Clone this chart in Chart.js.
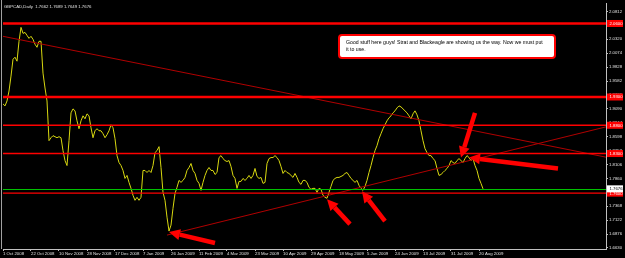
<!DOCTYPE html>
<html>
<head>
<meta charset="utf-8">
<script src="https://cdn.jsdelivr.net/npm/chart.js@4.4.0/dist/chart.umd.min.js"></script>
<style>
html, body { margin: 0; padding: 0; background: #000; }
</style>
</head>
<body>
<canvas id="priceChart" width="625" height="258"></canvas>
<script>
// GBPCAD daily closes, 1 Oct 2008 .. 21 Aug 2009
const closes = [
    1.9178, 1.9143, 1.9230, 1.9406, 1.9670, 1.9968, 2.0004, 1.9933, 2.0285, 2.0531,
    2.0425, 2.0442, 2.0390, 2.0337, 2.0373, 2.0320, 2.0232, 2.0179, 2.0285, 2.0285,
    1.9722, 1.9459, 1.9230, 1.8528, 1.8580, 1.8616, 1.8598, 1.8580, 1.8598, 1.8580,
    1.8352, 1.8176, 1.8088, 1.8528, 1.9020, 1.9090, 1.9055, 1.8879, 1.8739, 1.8879,
    1.8967, 1.8914, 1.9002, 1.8967, 1.8756, 1.8580, 1.8703, 1.8739, 1.8703, 1.8703,
    1.8651, 1.8580, 1.8633, 1.8703, 1.8809, 1.8756, 1.8563, 1.8264, 1.8141, 1.8088,
    1.8001, 1.7860, 1.7913, 1.7790, 1.7684, 1.7561, 1.7473, 1.7526, 1.7473, 1.7526,
    1.8001, 1.8001, 1.7965, 1.8001, 1.7965, 1.8088, 1.8317, 1.8352, 1.8422, 1.8053,
    1.7614, 1.7473, 1.7175, 1.6929, 1.7034, 1.7332, 1.7596, 1.7702, 1.7825, 1.7790,
    1.7825, 1.7878, 1.8001, 1.8053, 1.8124, 1.8001, 1.7948, 1.7825, 1.7772, 1.7649,
    1.7790, 1.7913, 1.8001, 1.8053, 1.8001, 1.8001, 1.7930, 1.7965, 1.8229, 1.8264,
    1.8211, 1.8176, 1.8159, 1.8176, 1.8071, 1.7913, 1.7860, 1.7684, 1.7807, 1.7807,
    1.7860, 1.7825, 1.7860, 1.7913, 1.7860, 1.7913, 1.8036, 1.7895, 1.7860, 1.7878,
    1.7772, 1.7790, 1.8124, 1.8211, 1.8229, 1.8229, 1.8264, 1.8229, 1.8176, 1.8071,
    1.7948, 1.8001, 1.7965, 1.7948, 1.7913, 1.7878, 1.7948, 1.7878, 1.7790, 1.7755,
    1.7825, 1.7825, 1.7790, 1.7702, 1.7667, 1.7684, 1.7684, 1.7614, 1.7684, 1.7667,
    1.7561, 1.7526, 1.7509, 1.7614, 1.7719, 1.7825, 1.7860, 1.7878, 1.7878, 1.7895,
    1.7913, 1.7948, 1.7965, 1.7913, 1.7860, 1.7825, 1.7790, 1.7825, 1.7737, 1.7684,
    1.7649, 1.7719, 1.7825, 1.7965, 1.8088, 1.8229, 1.8352, 1.8440, 1.8563, 1.8651,
    1.8739, 1.8809, 1.8879, 1.8932, 1.8967, 1.9020, 1.9055, 1.9107, 1.9143, 1.9125,
    1.9090, 1.9055, 1.9020, 1.8967, 1.8914, 1.9002, 1.9055, 1.8985, 1.8879, 1.8703,
    1.8528, 1.8387, 1.8317, 1.8264, 1.8264, 1.8211, 1.8176, 1.8036, 1.7913, 1.7930,
    1.7965, 1.8001, 1.8036, 1.8088, 1.8176, 1.8141, 1.8124, 1.8176, 1.8211, 1.8176,
    1.8141, 1.8211, 1.8264, 1.8229, 1.8176, 1.8211, 1.8088, 1.8001, 1.7860, 1.7772,
    1.7676
];
const dateLabels = [
    '1 Oct 2008', '22 Oct 2008', '10 Nov 2008', '28 Nov 2008', '17 Dec 2008', '7 Jan 2009',
    '26 Jan 2009', '11 Feb 2009', '4 Mar 2009', '23 Mar 2009', '10 Apr 2009', '29 Apr 2009',
    '18 May 2009', '5 Jun 2009', '24 Jun 2009', '13 Jul 2009', '31 Jul 2009', '20 Aug 2009'
];
const barsPerLabel = 14;
const priceTicks = [
    1.6630, 1.6876, 1.7122, 1.7368, 1.7614, 1.7860, 1.8106, 1.8352, 1.8598,
    1.8844, 1.9090, 1.9336, 1.9582, 1.9828, 2.0074, 2.0320, 2.0566, 2.0812
];
const levels = [2.0600, 1.9300, 1.8800, 1.8300, 1.7600];
const levelWidths = [2.5, 2.5, 1.5, 1.5, 1.2];
const lastPrice = 1.7676;
const ohlc = 'GBPCAD,Daily  1.7662 1.7689 1.7649 1.7676';
const note = ['Good stuff here guys! Strat and Blackeagle are showing us the way. Now we must put', 'it to use.'];

// trendlines and arrows as [bar, price, bar, price]
const trendLines = [
    [0, 2.0373, 301.5, 1.8236],
    [82, 1.6858, 301.5, 1.8772]
];
const arrows = [
    [106, 1.6718, 83, 1.6912],
    [173.5, 1.7052, 162, 1.7491],
    [191, 1.7104, 179.5, 1.7632],
    [236, 1.9020, 229, 1.8229],
    [277.5, 1.8036, 233, 1.8229]
];

const FONT = 'Liberation Sans';

function drawArrow(ctx, x1, y1, x2, y2) {
    const ang = Math.atan2(y2 - y1, x2 - x1);
    const len = 11, half = 5.5;
    const bx = x2 - Math.cos(ang) * len, by = y2 - Math.sin(ang) * len;
    ctx.beginPath();
    ctx.moveTo(x1, y1);
    ctx.lineTo(bx, by);
    ctx.stroke();
    ctx.beginPath();
    ctx.moveTo(x2, y2);
    ctx.lineTo(bx + Math.sin(ang) * half, by - Math.cos(ang) * half);
    ctx.lineTo(bx - Math.sin(ang) * half, by + Math.cos(ang) * half);
    ctx.closePath();
    ctx.fill();
}

function axisLabel(ctx, yScale, price, fill, textColor) {
    const py = yScale.getPixelForValue(price);
    const left = yScale.left + 1;
    ctx.fillStyle = fill;
    ctx.fillRect(left, py - 3.5, 16, 7);
    ctx.fillStyle = textColor;
    ctx.font = '4.3px ' + FONT;
    ctx.textBaseline = 'middle';
    ctx.textAlign = 'left';
    ctx.fillText(price.toFixed(4), left + 2.5, py + 0.3);
}

const mt4Objects = {
    id: 'mt4Objects',
    beforeDraw(chart) {
        const ctx = chart.ctx;
        ctx.save();
        ctx.fillStyle = '#000';
        ctx.fillRect(0, 0, chart.width, chart.height);
        ctx.restore();
    },
    afterDatasetsDraw(chart) {
        const { ctx, chartArea: a, scales: { x, y } } = chart;
        ctx.save();
        ctx.beginPath();
        ctx.rect(a.left, a.top, a.right - a.left, a.bottom - a.top);
        ctx.clip();

        ctx.strokeStyle = '#b00000';
        ctx.lineWidth = 1;
        trendLines.forEach(t => {
            ctx.beginPath();
            ctx.moveTo(x.getPixelForValue(t[0]), y.getPixelForValue(t[1]));
            ctx.lineTo(x.getPixelForValue(t[2]), y.getPixelForValue(t[3]));
            ctx.stroke();
        });

        ctx.strokeStyle = '#ff0000';
        levels.forEach((lv, i) => {
            const py = y.getPixelForValue(lv);
            ctx.lineWidth = levelWidths[i];
            ctx.beginPath();
            ctx.moveTo(a.left, py);
            ctx.lineTo(a.right, py);
            ctx.stroke();
        });

        // bid line
        const pb = Math.round(y.getPixelForValue(lastPrice)) + 0.5;
        ctx.strokeStyle = '#00c000';
        ctx.lineWidth = 1;
        ctx.beginPath();
        ctx.moveTo(a.left, pb);
        ctx.lineTo(a.right, pb);
        ctx.stroke();
        ctx.restore();
    },
    afterDraw(chart) {
        const { ctx, chartArea: a, scales: { x, y } } = chart;
        ctx.save();

        // left frame
        ctx.strokeStyle = '#a0a0a0';
        ctx.lineWidth = 1;
        ctx.beginPath();
        ctx.moveTo(1.5, 0);
        ctx.lineTo(1.5, a.bottom);
        ctx.stroke();

        // arrows
        ctx.strokeStyle = '#ff0000';
        ctx.fillStyle = '#ff0000';
        ctx.lineWidth = 4.5;
        ctx.lineCap = 'butt';
        arrows.forEach(r => {
            drawArrow(ctx, x.getPixelForValue(r[0]), y.getPixelForValue(r[1]),
                x.getPixelForValue(r[2]), y.getPixelForValue(r[3]));
        });

        // text note
        ctx.fillStyle = '#ffffff';
        ctx.strokeStyle = '#ff0000';
        ctx.lineWidth = 2;
        ctx.beginPath();
        ctx.roundRect(339, 35, 216, 23, 3);
        ctx.fill();
        ctx.stroke();
        ctx.fillStyle = '#000';
        ctx.font = '5.2px ' + FONT;
        ctx.textBaseline = 'middle';
        ctx.textAlign = 'left';
        ctx.fillText(note[0], 346, 42.5);
        ctx.fillText(note[1], 346, 50);

        // symbol header
        ctx.fillStyle = '#e0e0e0';
        ctx.font = '4.3px ' + FONT;
        ctx.fillText(ohlc, 4, 6.5);

        // price labels on the axis
        levels.forEach(lv => axisLabel(ctx, y, lv, '#ff0000', '#ffffff'));
        axisLabel(ctx, y, lastPrice, '#ffffff', '#000000');
        ctx.restore();
    }
};

const ctx = document.getElementById('priceChart').getContext('2d');
const priceChart = new Chart(ctx, {
    type: 'line',
    data: {
        datasets: [{
            label: 'GBPCAD',
            data: closes.map((v, i) => ({ x: i, y: v })),
            borderColor: '#d8d810',
            borderWidth: 1,
            pointRadius: 0,
            tension: 0,
            fill: false
        }]
    },
    options: {
        responsive: false,
        animation: false,
        layout: { padding: { left: 3, top: 2, right: 0, bottom: 0 } },
        plugins: {
            legend: { display: false },
            tooltip: { enabled: false }
        },
        scales: {
            x: {
                type: 'linear',
                min: 0,
                max: 301.5,
                afterBuildTicks: axis => {
                    axis.ticks = dateLabels.map((d, k) => ({ value: k * barsPerLabel }));
                },
                afterFit: axis => { axis.height = 9; },
                grid: { drawOnChartArea: false, color: '#c0c0c0', tickLength: 2 },
                border: { color: '#c0c0c0', width: 1 },
                ticks: {
                    autoSkip: false,
                    maxRotation: 0,
                    align: 'start',
                    padding: 0,
                    color: '#e0e0e0',
                    font: { family: FONT, size: 4.3 },
                    callback: v => dateLabels[Math.round(v / barsPerLabel)]
                }
            },
            y: {
                position: 'right',
                min: 1.6612,
                max: 2.0952,
                afterBuildTicks: axis => {
                    axis.ticks = priceTicks.map(v => ({ value: v }));
                },
                afterFit: axis => { axis.width = 19; },
                grid: { drawOnChartArea: false, color: '#c0c0c0', tickLength: 2 },
                border: { color: '#c0c0c0', width: 1 },
                ticks: {
                    padding: 1,
                    color: '#e0e0e0',
                    font: { family: FONT, size: 4.3 },
                    callback: v => v.toFixed(4)
                }
            }
        }
    },
    plugins: [mt4Objects]
});
</script>
</body>
</html>
